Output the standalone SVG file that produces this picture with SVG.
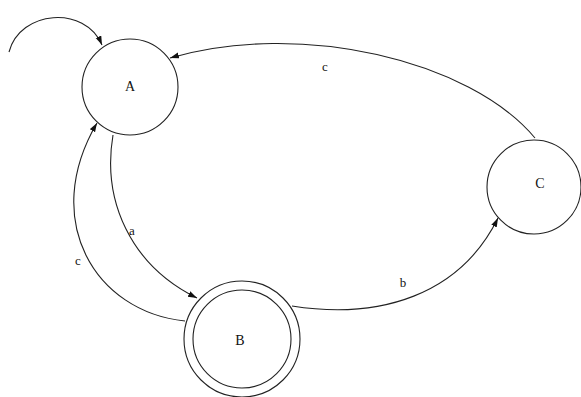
<svg xmlns="http://www.w3.org/2000/svg" width="581" height="397" viewBox="0 0 581 397">
<style>
.st{fill:none;stroke:#222;stroke-width:1.1}
.lbl{font-family:"Liberation Serif","Times New Roman",serif;font-size:14px;fill:#111;text-anchor:middle}
.el{font-family:"Liberation Serif","Times New Roman",serif;font-size:13px;fill:#111;text-anchor:middle}
.e{fill:none;stroke:#222;stroke-width:1.1;marker-end:url(#ah)}
</style>
<defs>
<marker id="ah" markerUnits="userSpaceOnUse" markerWidth="10" markerHeight="7" refX="9" refY="3" orient="auto">
<path d="M0,0 L9,3 L0,6 z" fill="#111"/>
</marker>
</defs>
<rect width="581" height="397" fill="#fff"/>
<g id="nodeA">
<circle class="st" cx="130" cy="87" r="48"/>
<text class="lbl" x="130" y="91">A</text>
</g>
<g id="nodeB">
<circle class="st" cx="242" cy="339" r="58"/>
<circle class="st" cx="242" cy="339" r="49"/>
<text class="lbl" x="240" y="345">B</text>
</g>
<g id="nodeC">
<circle class="st" cx="534" cy="187" r="47"/>
<text class="lbl" x="540" y="188">C</text>
</g>
<g id="connectors">
<path class="e" d="M 9 52 C 20 10, 85 5, 102 45"/>
<path class="e" d="M 535 138 C 470 60, 300 20, 170 58"/>
<path class="e" d="M 113 135 C 102 200, 130 265, 197 298"/>
<path class="e" d="M 185 321 C 95 312, 40 220, 97 123"/>
<path class="e" d="M 292 306 C 380 320, 460 295, 498 218"/>
<text class="el" x="325" y="71">c</text>
<text class="el" x="132" y="235">a</text>
<text class="el" x="78" y="265">c</text>
<text class="el" x="403" y="287">b</text>
</g>
</svg>
